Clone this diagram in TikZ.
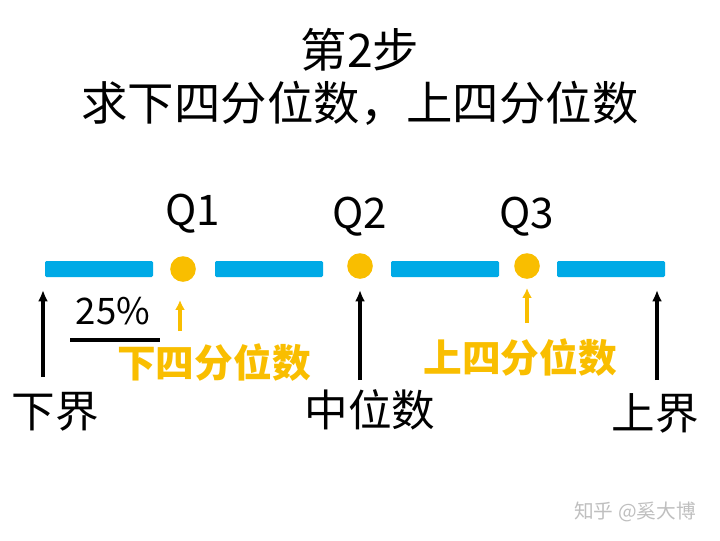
\documentclass[tikz,border=0pt]{standalone}
\usepackage{fontspec}
\setmainfont{Noto Sans CJK SC}
\usepackage{xcolor}
\usetikzlibrary{positioning,arrows.meta}
\definecolor{barblue}{RGB}{0,170,230}
\definecolor{qorange}{RGB}{249,190,0}
\begin{document}
\begin{tikzpicture}[x=0.025cm, y=-0.025cm,
  barnode/.style={fill=barblue, rounded corners=1pt},
  qnode/.style={circle, fill=qorange, minimum size=0.64cm, inner sep=0pt},
  bigarrow/.style={line width=2.6pt, -{Latex[length=8pt,width=7pt]}},
  smallarrow/.style={line width=2.6pt, color=qorange, -{Latex[length=7pt,width=7pt]}},
  labtext/.style={font=\fontsize{31}{34}\selectfont},
  qtext/.style={font=\fontsize{30}{32}\selectfont},
  orangetext/.style={font=\bfseries\fontsize{27.5}{30}\selectfont, text=qorange}]
\useasboundingbox (0,0) rectangle (720,540);

% titles
\node[font=\fontsize{33}{36}\selectfont] (title1) at (360,50) {第2步};
\node[font=\fontsize{33}{36}\selectfont] (title2) at (360,103) {求下四分位数，上四分位数};

% bars
\fill[barnode] (45,261) rectangle (153,277);
\fill[barnode] (215,261) rectangle (323,277);
\fill[barnode] (391,261) rectangle (499,277);
\fill[barnode] (557,261) rectangle (665,277);

% quartiles
\node[qnode] (q1) at (183,269) {};
\node[qnode] (q2) at (360,266) {};
\node[qnode] (q3) at (527,266) {};
\node[qtext] (q1t) at (193,214) {Q1};
\node[qtext] (q2t) at (360,217) {Q2};
\node[qtext] (q3t) at (527,217) {Q3};

% bottom labels
\node[labtext] (low) at (55,412) {下界};
\node[labtext] (med) at (370,410) {中位数};
\node[labtext] (up) at (655,413) {上界};
\coordinate (lowtop) at (43,290);
\coordinate (lowbot) at (43,377);
\coordinate (medtop) at (360,290);
\coordinate (medbot) at (360,380);
\coordinate (uptop) at (657,290);
\coordinate (upbot) at (657,380);
\draw[bigarrow] (lowbot) -- (lowtop);
\draw[bigarrow] (medbot) -- (medtop);
\draw[bigarrow] (upbot) -- (uptop);

% quartile labels
\node[orangetext] (lq) at (214,363) {下四分位数};
\node[orangetext] (uq) at (520,358) {上四分位数};
\coordinate (lqbot) at (180,331);
\coordinate (lqtop) at (180,300);
\coordinate (uqbot) at (527,323);
\coordinate (uqtop) at (527,288);
\draw[smallarrow] (lqbot) -- (lqtop);
\draw[smallarrow] (uqbot) -- (uqtop);

% 25%
\node[font=\fontsize{26}{30}\selectfont] (pct) at (113,311) {25\%};
\coordinate (pl) at (70,340);
\coordinate (pr) at (160,340);
\draw[line width=2.4pt] (pl) -- (pr);

% watermark
\node[text=black!25, font=\fontsize{14}{16}\selectfont] (wm) at (635,512) {知乎 @奚大博};
\end{tikzpicture}
\end{document}
